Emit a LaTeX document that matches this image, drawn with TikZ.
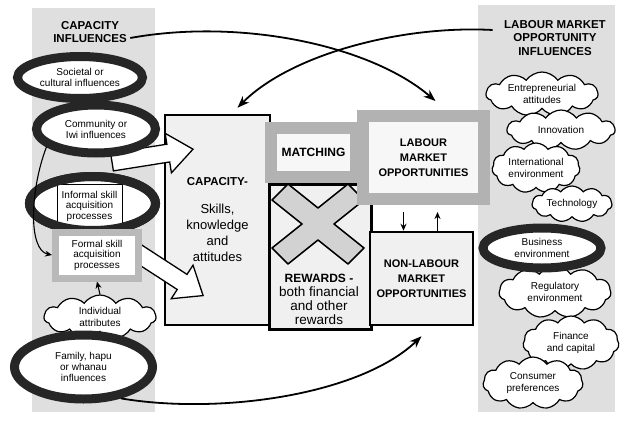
\documentclass[tikz,border=0pt]{standalone}
\usepackage{fontspec}
\setmainfont{Liberation Sans}
\usetikzlibrary{shapes.geometric, shapes.symbols, arrows.meta}
\tikzset{
  panel/.style    = {fill=gray!25, draw=none},
  ring/.style     = {ellipse, draw=black!85, line width=9pt, fill=white,
                     inner sep=0pt, align=center,
                     font=\fontsize{10}{11}\selectfont},
  ringline/.style = {draw=black!85, line width=9pt},
  puff/.style     = {cloud, cloud puffs=11, cloud puff arc=110,
                     cloud ignores aspect, draw, line width=1.2pt,
                     fill=white, inner sep=0pt, align=center,
                     font=\fontsize{10}{11.5}\selectfont},
  mainbox/.style  = {rectangle, draw, line width=2.5pt, fill=gray!12,
                     align=center, inner sep=0pt},
  greybox/.style  = {rectangle, draw=gray!60, line width=12pt, fill=gray!6,
                     align=center, inner sep=0pt,
                     font=\fontsize{11}{15}\selectfont\bfseries},
  skillbox/.style = {rectangle, draw, line width=0.8pt, fill=white,
                     align=center, font=\fontsize{10}{10.5}\selectfont},
  heading/.style  = {align=center, font=\fontsize{11.5}{13.5}\selectfont\bfseries},
  blockarrow/.style = {draw, line width=1.3pt, fill=white, line join=miter},
  link/.style     = {draw, line width=1.8pt, -{Stealth[length=12pt,width=9pt]}},
  sketch/.style   = {draw, line width=1.1pt, -{Stealth[length=7pt,width=6pt]}}
}

\begin{document}
\begin{tikzpicture}[x=1pt, y=-1pt]
  \useasboundingbox (0,0) rectangle (622,442);
  \fill[panel] (32,8) rectangle (155,412);
  \fill[panel] (478,5) rectangle (615,412);

  \node[heading] (capinf) at (90,32) {CAPACITY\\INFLUENCES};
  \node[heading] (lminf) at (555,38) {LABOUR MARKET\\OPPORTUNITY\\INFLUENCES};

  % centre
  \node[mainbox, minimum width=105, minimum height=210,
        font=\fontsize{13}{16}\selectfont] (capacity) at (217.5,220)
    {\fontsize{11.5}{14}\selectfont\bfseries CAPACITY-\\[12pt]Skills,\\knowledge\\and\\attitudes};
  \node[mainbox, minimum width=102, minimum height=145, anchor=north west]
    (rewards) at (268,183) {};
  \node[align=center, font=\fontsize{13.5}{14}\selectfont] (rewardtext) at (319,299)
    {{\fontsize{12}{14}\selectfont\bfseries REWARDS -}\\both financial\\and other\\rewards};
  \node[mainbox, minimum width=103, minimum height=93,
        font=\fontsize{11}{15}\selectfont\bfseries] (nonlmo) at (421.5,278.5)
    {NON-LABOUR\\MARKET\\OPPORTUNITIES};
  \draw[fill=gray!35, line width=1.5pt, line join=round]
    (272,200) -- (288,184) -- (318,208) -- (348,184) -- (364,200) -- (334,224)
    -- (364,248) -- (348,264) -- (318,240) -- (288,264) -- (272,248) -- (302,224)
    -- cycle;
  \node[greybox, minimum width=121, minimum height=83] (lmo) at (423.5,157.5)
    {LABOUR\\MARKET\\OPPORTUNITIES};
  \node[greybox, minimum width=85, minimum height=49,
        font=\fontsize{12}{14}\selectfont\bfseries] (matching) at (313.5,152.5) {MATCHING};

  % left
  \foreach \x/\y/\a/\l in {112/162/9/82, 136/252/-33/80}
    \draw[blockarrow, shift={(\x,\y)}, rotate=\a]
      (0,-9) -- (\l-25,-9) -- (\l-25,-20) -- (\l,0) -- (\l-25,20) -- (\l-25,9)
      -- (0,9) -- cycle;
  \node[ring, minimum width=125, minimum height=42] (societal) at (80,77.5)
    {Societal or\\cultural influences};
  \node[ring, minimum width=119, minimum height=48] (community) at (96,129)
    {Community or\\Iwi influences};
  \node[ring, minimum width=126, minimum height=54] (informal) at (92.5,203.5) {};
  \node[skillbox, minimum width=65, minimum height=44] (informalbox) at (89.5,206)
    {Informal skill\\acquisition\\processes};
  \draw[ringline] (informal.center) ellipse [x radius=63, y radius=27];
  \node[greybox, draw=gray!55, line width=7pt, fill=white, minimum width=83,
        minimum height=46, font=\fontsize{10}{10.5}\selectfont] (formal) at (97,255)
    {Formal skill\\acquisition\\processes};
  \node[puff, minimum width=112, minimum height=44] (individual) at (100,317)
    {Individual\\attributes};
  \node[ring, minimum width=138, minimum height=64] (family) at (83.5,367)
    {Family, hapu\\or whanau\\influences};

  % right
  \node[puff, minimum width=112, minimum height=44] (entre) at (542,94)
    {Entrepreneurial\\attitudes};
  \node[puff, minimum width=108, minimum height=40] (innov) at (561,130) {Innovation};
  \node[puff, minimum width=88, minimum height=50] (intl) at (536,168)
    {International\\environment};
  \node[puff, minimum width=80, minimum height=36] (tech) at (572,204) {Technology};
  \node[puff, minimum width=112, minimum height=52] (regul) at (555,292)
    {Regulatory\\environment};
  \node[ring, minimum width=118, minimum height=40,
        font=\fontsize{10}{11.5}\selectfont] (business) at (542,248)
    {Business\\environment};
  \node[puff, minimum width=96, minimum height=54] (finance) at (571,343)
    {Finance\\and capital};
  \node[puff, minimum width=100, minimum height=52] (consumer) at (533,383)
    {Consumer\\preferences};

  % connectors
  \draw[link] ([yshift=-6pt]capinf.east) .. controls (240,18) and (370,45)
    .. ([xshift=12pt,yshift=9pt]lmo.north);
  \draw[link] ([xshift=-8pt,yshift=8pt]lminf.west) .. controls (400,25) and (290,55)
    .. ([xshift=20pt,yshift=6pt]capacity.north);
  \draw[link] (family.-40) .. controls (220,415) and (360,395)
    .. ([yshift=-10pt]nonlmo.south);
  \draw[sketch, shorten <=7pt] ([xshift=-20pt]lmo.south) -- ([xshift=-18pt]nonlmo.north);
  \draw[sketch, shorten >=7pt] ([xshift=16pt]nonlmo.north) -- ([xshift=14pt]lmo.south);
  \draw[sketch] (community.200) .. controls (30,190) and (28,250) .. (formal.west);
  \draw[sketch] (individual.north) -- (formal.south);
\end{tikzpicture}
\end{document}
